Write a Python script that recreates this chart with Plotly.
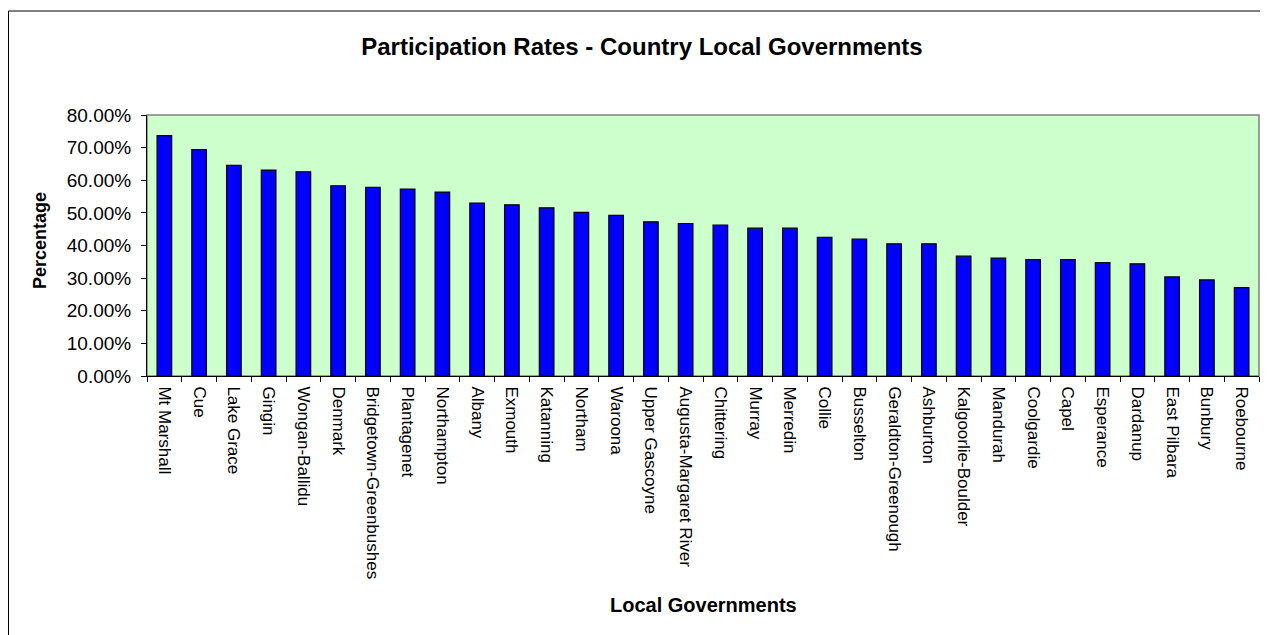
import plotly.graph_objects as go

categories = ["Mt Marshall", "Cue", "Lake Grace", "Gingin", "Wongan-Ballidu", "Denmark",
              "Bridgetown-Greenbushes", "Plantagenet", "Northampton", "Albany", "Exmouth",
              "Katanning", "Northam", "Waroona", "Upper Gascoyne", "Augusta-Margaret River",
              "Chittering", "Murray", "Merredin", "Collie", "Busselton", "Geraldton-Greenough",
              "Ashburton", "Kalgoorlie-Boulder", "Mandurah", "Coolgardie", "Capel", "Esperance",
              "Dardanup", "East Pilbara", "Bunbury", "Roebourne"]
rates_pct = [73.66, 69.36, 64.55, 63.12, 62.61, 58.31, 57.80, 57.29, 56.37, 52.99, 52.48,
             51.56, 50.13, 49.21, 47.26, 46.75, 46.24, 45.32, 45.32, 42.46, 41.94, 40.51,
             40.51, 36.73, 36.11, 35.70, 35.70, 34.78, 34.37, 30.38, 29.46, 27.11]
y_ticks = [0, 0.1, 0.2, 0.3, 0.4, 0.5, 0.6, 0.7, 0.8]

W, H = 1268, 635
L, R, T, B = 139, 17, 107, 267
pw, ph = W - L - R, H - T - B

FONT = "Liberation Sans, Arial, sans-serif"

fig = go.Figure(go.Bar(
    x=categories,
    y=[v / 100 for v in rates_pct],
    marker=dict(color="#0000FF", line=dict(color="#000000", width=1.2)),
    width=0.42,
))


def px_x(p):
    return (p - L) / pw


def px_y(p):
    return (H - B - p) / ph


# outer chart border (right/bottom sides fall outside the visible page)
fig.add_shape(type="rect", xref="paper", yref="paper",
              x0=px_x(0.5), x1=px_x(W + 20), y0=px_y(3), y1=px_y(H + 20),
              line=dict(color="#000000", width=1), layer="below")
# plot area frame (gray)
fig.add_shape(type="rect", xref="paper", yref="paper",
              x0=0, x1=1, y0=0, y1=1,
              line=dict(color="#808080", width=1.5), layer="below")

fig.add_annotation(text="<b>Local Governments</b>", xref="paper", yref="paper",
                   x=0.5, y=px_y(597), xanchor="center", yanchor="middle",
                   showarrow=False, font=dict(size=20, family=FONT, color="#000000"))
fig.add_annotation(text="<b>Percentage</b>", xref="paper", yref="paper",
                   x=px_x(32), y=px_y(233), xanchor="center", yanchor="middle",
                   textangle=-90, showarrow=False,
                   font=dict(size=18, family=FONT, color="#000000"))

fig.update_layout(
    width=W, height=H,
    margin=dict(l=L, r=R, t=T, b=B, pad=0),
    paper_bgcolor="white",
    plot_bgcolor="#CCFFCC",
    showlegend=False,
    font=dict(family=FONT, color="#000000", size=17),
    title=dict(text="<b>Participation Rates - Country Local Governments</b>",
               x=0.5, xref="container", xanchor="center", y=1 - 39 / H, yanchor="middle",
               font=dict(size=24, family=FONT, color="#000000")),
)
fig.update_xaxes(
    type="category",
    tickangle=90,
    tickfont=dict(size=17, family=FONT),
    ticks="outside", ticklen=5, tickcolor="#000000", tickson="boundaries",
    ticklabelstandoff=6,
    showline=True, linecolor="#000000", linewidth=1,
    showgrid=False,
)
fig.update_yaxes(
    range=[0, 0.8],
    tickvals=y_ticks,
    tickformat=".2%",
    tickfont=dict(size=19, family=FONT),
    ticks="outside", ticklen=5, tickcolor="#000000",
    ticklabelstandoff=6,
    showline=True, linecolor="#000000", linewidth=1,
    showgrid=False, zeroline=False,
)

fig.write_html("out.html")
